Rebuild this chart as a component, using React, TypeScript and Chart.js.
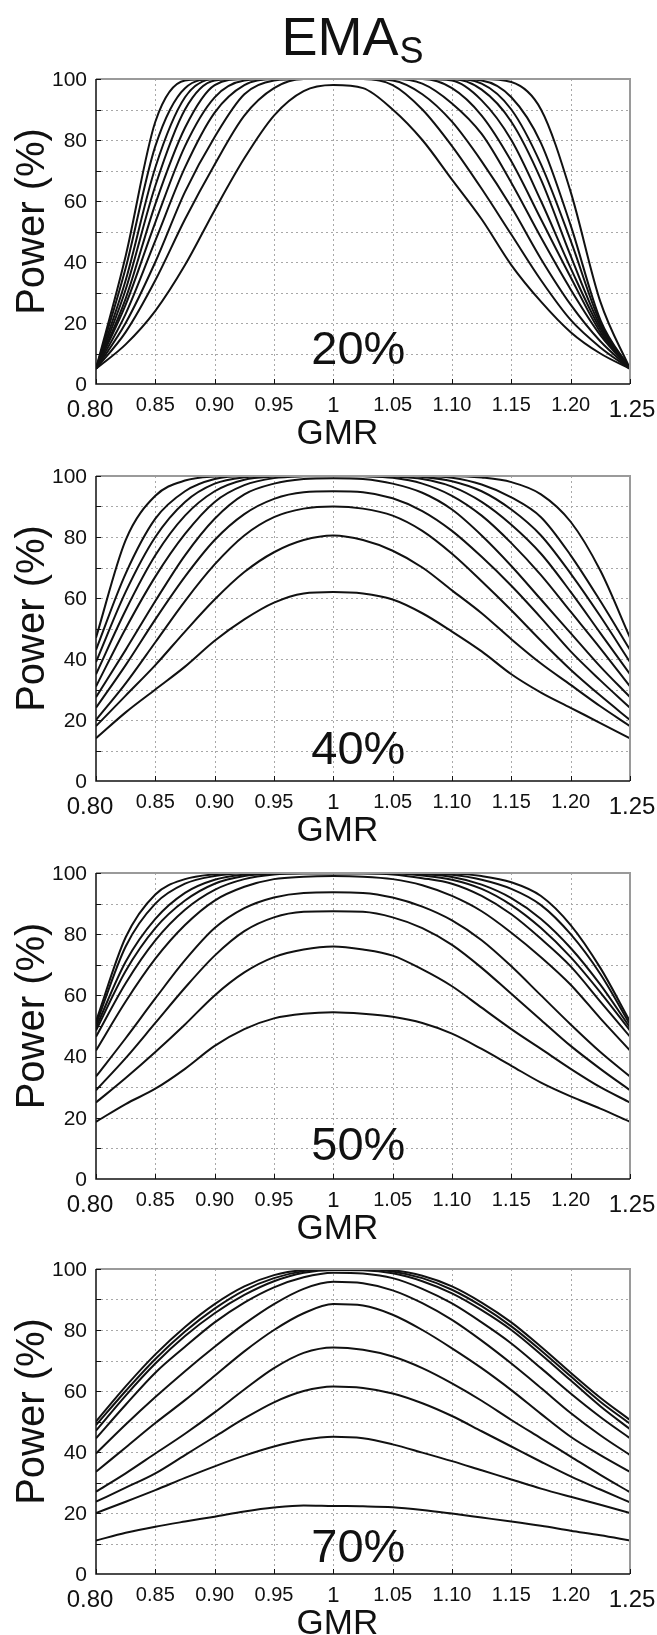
import React, { useEffect, useRef } from "react";
import { Chart, registerables } from "chart.js";

Chart.register(...registerables);

// ---------- data ----------
const GMR = [0.8, 0.825, 0.85, 0.875, 0.9, 0.925, 0.95, 0.975, 1.0, 1.025, 1.05, 1.075, 1.1, 1.125, 1.15, 1.175, 1.2, 1.225, 1.25];

const X_TICKS = [0.8, 0.85, 0.9, 0.95, 1.0, 1.05, 1.1, 1.15, 1.2, 1.25];
const X_TICK_LABELS = ["0.80", "0.85", "0.90", "0.95", "1", "1.05", "1.10", "1.15", "1.20", "1.25"];
const Y_TICKS = [0, 20, 40, 60, 80, 100];
const Y_GRID = [10, 20, 30, 40, 50, 60, 70, 80, 90];
const TITLE_MAIN = "EMA";
const TITLE_SUB = "S";
const X_TITLE = "GMR";
const Y_TITLE = "Power (%)";
const PANEL_LABELS = ["20%", "40%", "50%", "70%"];

// CV 20%
const POWER_CV20 = [
  [5, 13, 24, 39, 57, 74, 88, 96, 98, 97, 90, 80, 67, 54, 39, 27, 17, 10, 5],
  [5, 17, 34, 54, 72, 88, 97, 100, 100, 100, 98, 90, 78, 64, 49, 34, 21, 12, 5],
  [5, 20, 40, 63, 81, 95, 99.5, 100, 100, 100, 99.5, 95, 86, 73, 58, 41, 26, 14, 5],
  [5, 23, 47, 71, 89, 98, 100, 100, 100, 100, 100, 98.5, 92, 82, 66, 48, 31, 16, 5],
  [5, 26, 53, 78, 94, 99.5, 100, 100, 100, 100, 100, 100, 97, 88, 73, 54, 35, 17, 5],
  [5, 28, 59, 84, 98, 100, 100, 100, 100, 100, 100, 100, 99.5, 93, 80, 60, 38, 18, 5],
  [5, 31, 65, 90, 99.5, 100, 100, 100, 100, 100, 100, 100, 100, 96.5, 86, 67, 42, 19, 5],
  [5, 34, 71, 94, 100, 100, 100, 100, 100, 100, 100, 100, 100, 98.5, 90, 72, 47, 20, 5],
  [5, 38, 78, 97, 100, 100, 100, 100, 100, 100, 100, 100, 100, 99.5, 94, 79, 52, 21, 5],
  [5, 42, 86, 99.5, 100, 100, 100, 100, 100, 100, 100, 100, 100, 100, 99, 90, 63, 27, 5],
];

// CV 40%
const POWER_CV40 = [
  [14, 22.5, 30, 37.5, 46, 53, 58.5, 61.5, 62, 61.5, 59.5, 55, 49, 42.5, 35, 29, 24, 19, 14],
  [18, 28, 38, 49, 59.5, 68.5, 75, 79, 80.5, 79, 75.5, 70, 62.5, 55, 46.5, 38.5, 31.5, 24.5, 18],
  [20, 32, 45.5, 59, 71, 80.5, 86.5, 89.3, 90, 89.3, 87, 82, 74.5, 65.5, 56, 46, 36.5, 28, 20],
  [24, 38, 53, 67, 79, 87.5, 92.5, 94.7, 95, 94.7, 92.7, 88.5, 82, 73.5, 64, 53.5, 42.5, 33, 24],
  [27.5, 43, 59, 74, 86, 94, 97.5, 99, 99.3, 99, 97.5, 94.5, 89, 80.5, 70.5, 59.5, 48.5, 37.5, 27.5],
  [31, 50, 67, 81, 91.5, 97, 99.3, 99.9, 100, 99.9, 99.4, 97.5, 93.5, 87, 78, 67.5, 55.5, 43.5, 31],
  [35, 56, 74, 87, 95, 98.8, 99.8, 100, 100, 100, 99.8, 99, 96.5, 91.5, 84, 74.5, 62, 48.5, 35],
  [39, 62, 80, 91.5, 97.5, 99.6, 100, 100, 100, 100, 100, 99.7, 98.3, 95, 89, 80.5, 68, 54, 39],
  [43, 68, 86, 95, 99, 100, 100, 100, 100, 100, 100, 100, 99.4, 97.2, 93, 86.5, 74, 59, 43],
  [47, 79, 93.5, 98.5, 99.8, 100, 100, 100, 100, 100, 100, 100, 100, 99.5, 98, 94, 85, 69, 47],
];

// CV 50%
const POWER_CV50 = [
  [18.7, 24.5, 29.5, 36, 43.5, 49, 52.5, 54, 54.5, 54, 53, 51, 47.5, 42.5, 37, 31.5, 27, 23, 18.7],
  [25, 33, 41.5, 50.5, 60, 67.5, 72.5, 75, 76, 75, 73, 68.5, 63, 56, 49, 42.5, 36, 30, 25],
  [29, 39.5, 51, 62.5, 73, 81, 85.5, 87.3, 87.5, 87.3, 85.5, 82, 76.5, 69, 60.5, 52, 43.5, 36, 29],
  [33.5, 46, 59, 71.5, 82, 88.5, 92, 93.5, 93.7, 93.5, 92, 89, 84.5, 78, 69.5, 60, 50.5, 41.5, 33.5],
  [42, 58, 72, 83, 91, 95.5, 98, 98.8, 99, 98.8, 98, 96, 92.5, 87.5, 80.5, 72.5, 63.5, 52.5, 42],
  [46.5, 64, 78, 88, 94.5, 98, 99.5, 99.8, 99.8, 99.8, 99.5, 98.3, 96.5, 92.5, 86.5, 78.5, 69.5, 58, 46.5],
  [48.5, 68, 82, 91, 96.5, 99, 99.8, 100, 100, 100, 99.9, 99.2, 97.8, 94.8, 89.5, 82, 72.5, 61, 48.5],
  [49.5, 71, 85, 93.5, 97.8, 99.5, 100, 100, 100, 100, 100, 99.6, 98.7, 96.2, 91.8, 85, 75.5, 63.5, 49.5],
  [50.5, 76, 90, 96.5, 99, 99.9, 100, 100, 100, 100, 100, 99.9, 99.4, 97.8, 94.8, 89.5, 80, 67, 50.5],
  [51.5, 79, 93, 98, 99.6, 100, 100, 100, 100, 100, 100, 100, 99.8, 99, 97, 92.5, 83, 69, 51.5],
];

// CV 70%
const POWER_CV70 = [
  [11, 13.5, 15.5, 17.2, 18.8, 20.5, 21.8, 22.5, 22.3, 22.2, 21.9, 21, 19.8, 18.5, 17.2, 15.8, 14.2, 12.7, 11],
  [20, 23.7, 27.5, 31.5, 35.3, 38.8, 41.8, 44, 45, 44.5, 42.5, 39.8, 37, 34, 31, 28, 25.3, 22.7, 20],
  [23.7, 28.3, 33, 39, 45, 51, 56.3, 60, 61.5, 61, 59.2, 56, 51.8, 46.8, 41.8, 36.8, 32, 27.7, 23.5],
  [27, 33, 39.5, 46, 53, 60.5, 67.5, 72.5, 74.3, 73.5, 71.3, 67.5, 62.5, 56.8, 50.5, 44.5, 38.5, 32.5, 26.8],
  [33.5, 41.5, 49.5, 57, 65, 73, 80, 85.5, 88.5, 88, 85, 80, 74, 67.5, 60.3, 52.5, 45, 39, 33.5],
  [39.5, 49, 58, 66.5, 74.5, 82, 88.5, 93.5, 95.8, 95.3, 93, 88.8, 83.3, 76.5, 69, 61, 52.8, 45.5, 39],
  [44.5, 55.5, 66, 74.5, 82.5, 89, 94, 97.3, 98.8, 98.5, 97, 93.5, 88.7, 82.5, 75.6, 67.5, 59.2, 51.5, 44.5],
  [47, 58.5, 69, 78, 85.5, 91.5, 96, 98.8, 99.7, 99.6, 98.6, 96, 92, 86.5, 80, 72, 63.5, 55, 47.5],
  [48.8, 60, 70.5, 79.5, 87, 93, 97, 99.3, 100, 100, 99.2, 97, 93.2, 87.8, 81.2, 73.3, 64.8, 56.5, 49.3],
  [50, 61.5, 72, 81, 88.5, 94.3, 98, 99.7, 100, 100, 99.6, 97.8, 94.3, 89, 82.5, 74.5, 66, 57.8, 50.5],
];

const POWER = [POWER_CV20, POWER_CV40, POWER_CV50, POWER_CV70];

// ---------- layout / style ----------
const W = 657;
const LAYOUT = [
  { top: 0, height: 460, plotTop: 79, plotBottom: 384, labelOff: 20 },
  { top: 460, height: 397, plotTop: 16, plotBottom: 321, labelOff: 17 },
  { top: 857, height: 396, plotTop: 16, plotBottom: 322, labelOff: 19 },
  { top: 1253, height: 382, plotTop: 16, plotBottom: 321, labelOff: 12 },
];
const PLOT_LEFT = 96;
const PLOT_RIGHT = 630;
const FONT = "'Liberation Sans', Arial, Helvetica, sans-serif";
const INK = "#111";

function decor(idx: number) {
  return {
    id: "decor" + idx,
    beforeDatasetsDraw(chart: any) {
      const { ctx, chartArea: a, scales } = chart;
      const x = scales.x;
      const y = scales.y;
      ctx.save();
      ctx.strokeStyle = "#a8a8a8";
      ctx.lineWidth = 1;
      ctx.setLineDash([2, 3]);
      for (const t of X_TICKS.slice(1, -1)) {
        const px = Math.round(x.getPixelForValue(t)) + 0.5;
        ctx.beginPath();
        ctx.moveTo(px, a.top);
        ctx.lineTo(px, a.bottom);
        ctx.stroke();
      }
      for (const v of Y_GRID) {
        const py = Math.round(y.getPixelForValue(v)) + 0.5;
        ctx.beginPath();
        ctx.moveTo(a.left, py);
        ctx.lineTo(a.right, py);
        ctx.stroke();
      }
      ctx.restore();
    },
    afterDatasetsDraw(chart: any) {
      const { ctx, chartArea: a, scales } = chart;
      const x = scales.x;
      const y = scales.y;
      ctx.save();
      // box: top/right gray, left/bottom black
      ctx.setLineDash([]);
      ctx.strokeStyle = "#9a9a9a";
      ctx.lineWidth = 2;
      ctx.beginPath();
      ctx.moveTo(a.left, a.top);
      ctx.lineTo(a.right, a.top);
      ctx.lineTo(a.right, a.bottom);
      ctx.stroke();
      ctx.strokeStyle = INK;
      ctx.lineWidth = 1.5;
      ctx.beginPath();
      ctx.moveTo(a.left, a.top);
      ctx.lineTo(a.left, a.bottom);
      ctx.lineTo(a.right, a.bottom);
      ctx.stroke();
      // inward tick marks
      ctx.lineWidth = 1;
      for (const t of X_TICKS) {
        const px = Math.round(x.getPixelForValue(t)) + 0.5;
        ctx.beginPath();
        ctx.moveTo(px, a.bottom);
        ctx.lineTo(px, a.bottom - 5);
        ctx.stroke();
      }
      for (const v of [...Y_GRID, 100]) {
        const py = Math.round(y.getPixelForValue(v)) + 0.5;
        ctx.beginPath();
        ctx.moveTo(a.left, py);
        ctx.lineTo(a.left + 5, py);
        ctx.stroke();
      }
      // y tick labels
      ctx.fillStyle = INK;
      ctx.font = `21px ${FONT}`;
      ctx.textAlign = "right";
      ctx.textBaseline = "middle";
      for (const v of Y_TICKS) {
        ctx.fillText(String(v), a.left - 9, y.getPixelForValue(v) + 1);
      }
      // x tick labels
      ctx.textAlign = "center";
      ctx.textBaseline = "alphabetic";
      X_TICKS.forEach((t, i) => {
        const lab = X_TICK_LABELS[i];
        let px = x.getPixelForValue(t);
        let size = 20;
        let off = 27;
        if (i === 0) {
          size = 24;
          off = 33;
          px -= 6;
        } else if (i === X_TICKS.length - 1) {
          size = 24;
          off = 33;
          px += 2;
        } else if (lab === "1") {
          size = 22;
          off = 28;
        }
        ctx.font = `${size}px ${FONT}`;
        ctx.fillText(lab, px, a.bottom + off);
      });
      // axis titles
      ctx.font = `35px ${FONT}`;
      ctx.fillText(X_TITLE, x.getPixelForValue(1.0) + 4, a.bottom + 60);
      ctx.save();
      ctx.translate(44, (a.top + a.bottom) / 2 - 10);
      ctx.rotate(-Math.PI / 2);
      ctx.font = `40px ${FONT}`;
      ctx.textAlign = "center";
      ctx.fillText(Y_TITLE, 0, 0);
      ctx.restore();
      // panel label
      ctx.font = `47px ${FONT}`;
      ctx.textAlign = "center";
      ctx.fillText(PANEL_LABELS[idx], x.getPixelForValue(1.0) + 25, a.bottom - LAYOUT[idx].labelOff);
      // main title
      if (idx === 0) {
        ctx.textAlign = "left";
        ctx.font = `54px ${FONT}`;
        const w1 = ctx.measureText(TITLE_MAIN).width;
        ctx.font = `36px ${FONT}`;
        const w2 = ctx.measureText(TITLE_SUB).width;
        const start = 352 - (w1 + w2) / 2;
        ctx.font = `54px ${FONT}`;
        ctx.fillText(TITLE_MAIN, start, 55);
        ctx.font = `36px ${FONT}`;
        ctx.fillText(TITLE_SUB, start + w1 + 1, 63);
      }
      ctx.restore();
    },
  };
}

function Panel({ idx }: { idx: number }) {
  const ref = useRef<HTMLCanvasElement | null>(null);
  const L = LAYOUT[idx];
  useEffect(() => {
    if (!ref.current) return;
    const series = POWER[idx];
    const chart = new Chart(ref.current, {
      type: "line",
      data: {
        datasets: series.map((s, i) => ({
          label: `curve ${i + 1}`,
          data: s.map((v, j) => ({ x: GMR[j], y: v })),
          borderColor: INK,
          borderWidth: 2,
          pointRadius: 0,
          fill: false,
          cubicInterpolationMode: "monotone" as const,
        })),
      },
      options: {
        responsive: false,
        animation: false,
        devicePixelRatio: 1,
        events: [],
        layout: {
          padding: {
            left: PLOT_LEFT,
            right: W - PLOT_RIGHT,
            top: L.plotTop,
            bottom: L.height - L.plotBottom,
          },
        },
        plugins: { legend: { display: false }, tooltip: { enabled: false }, title: { display: false } },
        scales: {
          x: { type: "linear", min: 0.8, max: 1.25, display: false },
          y: { type: "linear", min: 0, max: 100, display: false },
        },
      },
      plugins: [decor(idx)],
    } as any);
    return () => chart.destroy();
  }, [idx]);
  return (
    <canvas
      ref={ref}
      width={W}
      height={L.height}
      style={{ position: "absolute", left: 0, top: L.top, width: W, height: L.height }}
    />
  );
}

export default function App() {
  return (
    <div style={{ position: "absolute", left: 0, top: 0, width: W, height: 1635, background: "#fff" }}>
      {LAYOUT.map((_, i) => (
        <Panel key={i} idx={i} />
      ))}
    </div>
  );
}
